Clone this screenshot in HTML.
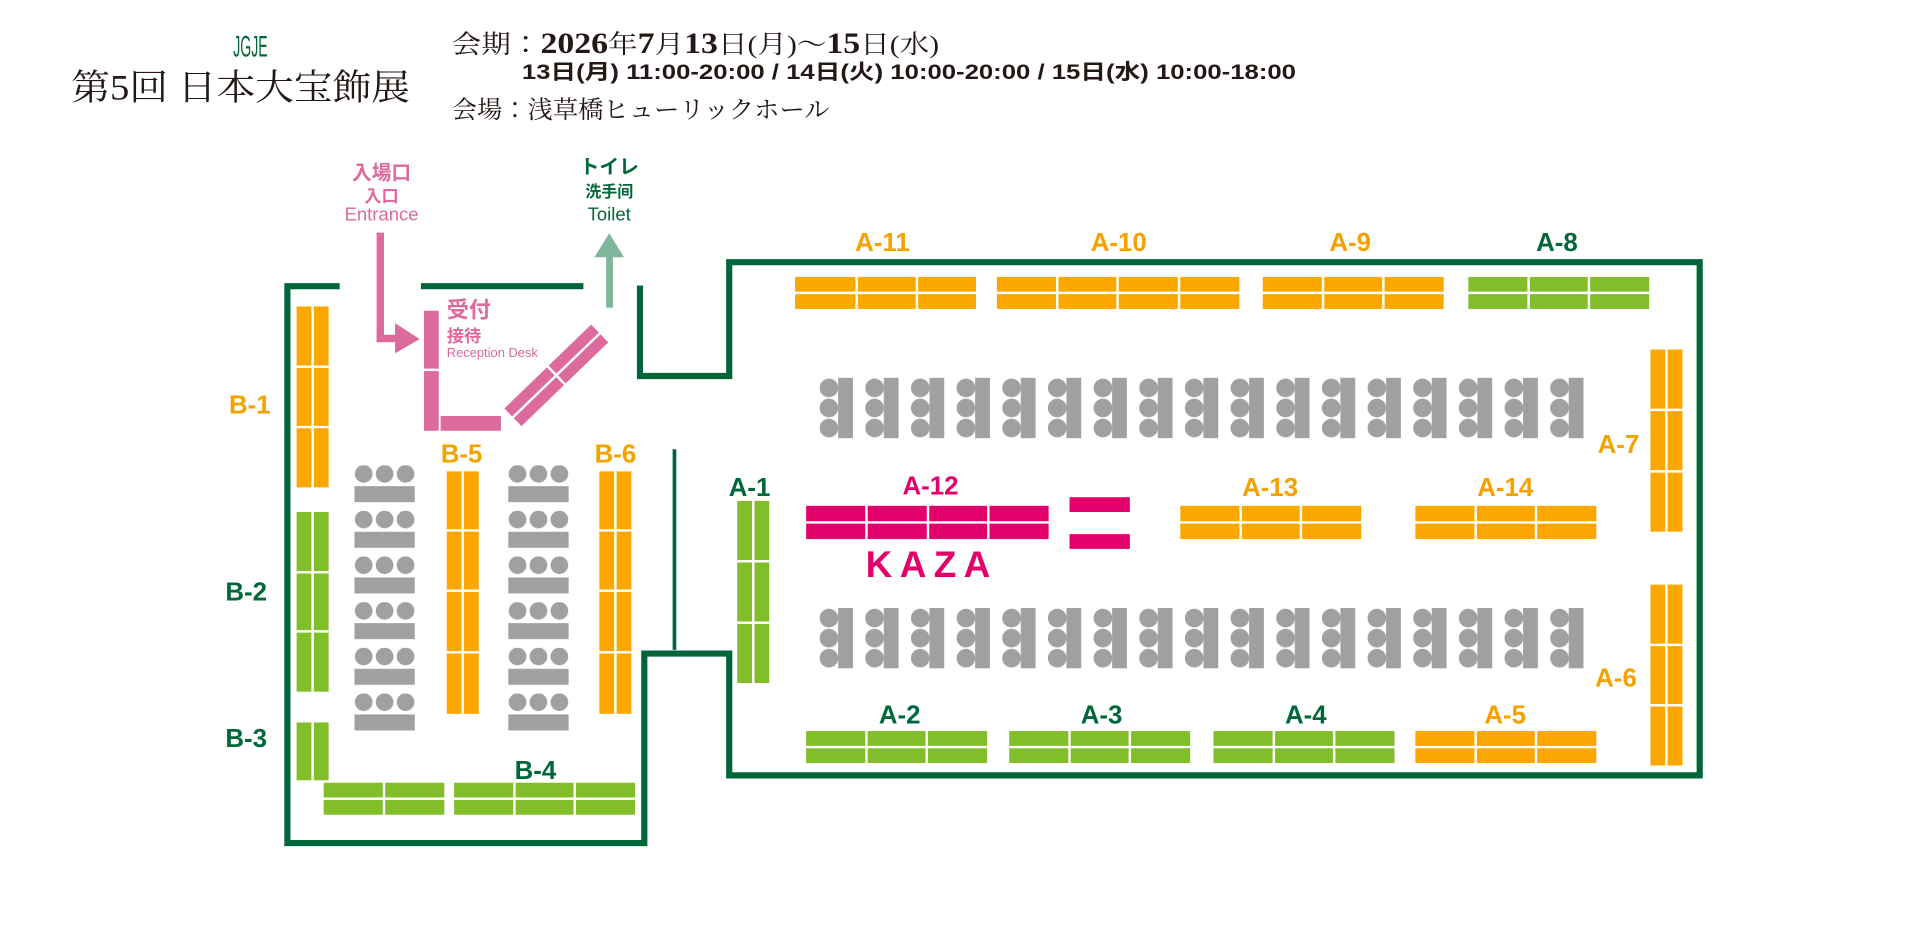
<!DOCTYPE html>
<html><head><meta charset="utf-8"><style>
html,body{margin:0;padding:0;background:#fff;}
svg{display:block;}
.l{font-family:"Liberation Sans","Noto Sans CJK JP",sans-serif;font-weight:bold;text-anchor:middle;}
.s{font-family:"Liberation Serif","Noto Serif CJK JP",serif;fill:#231815;}
</style></head><body>
<svg width="1920" height="927" viewBox="0 0 1560 753.2" preserveAspectRatio="none" xmlns="http://www.w3.org/2000/svg">
<defs>
<pattern id="ch" x="666" y="307" width="37.1" height="49" patternUnits="userSpaceOnUse">
<circle cx="7.5" cy="8.2" r="7.6" fill="#a0a0a0"/><circle cx="7.5" cy="24.5" r="7.6" fill="#a0a0a0"/><circle cx="7.5" cy="40.8" r="7.6" fill="#a0a0a0"/>
<rect x="15" y="0" width="12" height="49" fill="#a0a0a0"/></pattern>
<pattern id="ch2" x="666" y="494" width="37.1" height="49" patternUnits="userSpaceOnUse">
<circle cx="7.5" cy="8.2" r="7.6" fill="#a0a0a0"/><circle cx="7.5" cy="24.5" r="7.6" fill="#a0a0a0"/><circle cx="7.5" cy="40.8" r="7.6" fill="#a0a0a0"/>
<rect x="15" y="0" width="12" height="49" fill="#a0a0a0"/></pattern>
<pattern id="cl" x="288" y="378" width="49" height="37.1" patternUnits="userSpaceOnUse">
<circle cx="7.5" cy="7" r="7.2" fill="#a0a0a0"/><circle cx="24.5" cy="7" r="7.2" fill="#a0a0a0"/><circle cx="41.5" cy="7" r="7.2" fill="#a0a0a0"/>
<rect x="0" y="17" width="49" height="13" fill="#a0a0a0"/></pattern>
<pattern id="cl2" x="413" y="378" width="49" height="37.1" patternUnits="userSpaceOnUse">
<circle cx="7.5" cy="7" r="7.2" fill="#a0a0a0"/><circle cx="24.5" cy="7" r="7.2" fill="#a0a0a0"/><circle cx="41.5" cy="7" r="7.2" fill="#a0a0a0"/>
<rect x="0" y="17" width="49" height="13" fill="#a0a0a0"/></pattern>
</defs>

<!-- header -->
<text x="203.5" y="46" font-family="Liberation Sans Narrow,Liberation Sans,sans-serif" font-size="24" fill="#00673a" text-anchor="middle" textLength="28" lengthAdjust="spacingAndGlyphs">JGJE</text>
<text class="s" x="58" y="81" font-size="29" textLength="275" lengthAdjust="spacingAndGlyphs">第5回 日本大宝飾展</text>
<text class="s" x="367" y="43" font-size="21" textLength="396" lengthAdjust="spacingAndGlyphs">会期：<tspan font-size="24" font-weight="bold">2026</tspan>年<tspan font-size="24" font-weight="bold">7</tspan>月<tspan font-size="24" font-weight="bold">13</tspan>日(月)～<tspan font-size="24" font-weight="bold">15</tspan>日(水)</text>
<text x="424" y="64" font-family="Liberation Sans","Noto Sans CJK JP",sans-serif font-size="17" font-weight="bold" fill="#231815" textLength="629" lengthAdjust="spacingAndGlyphs" style="font-family:'Liberation Sans','Noto Sans CJK JP',sans-serif">13日(月) 11:00-20:00  /  14日(火) 10:00-20:00  /  15日(水) 10:00-18:00</text>
<text class="s" x="367" y="96" font-size="20" textLength="307" lengthAdjust="spacingAndGlyphs">会場：浅草橋ヒューリックホール</text>

<!-- walls -->
<g fill="none" stroke="#00663a" stroke-width="5">
<path d="M276,232.5 H233.5 V685 H523.5 V531 H592.5 V630 H1381 V213 H592.5 V305.5 H520 V232"/>
<path d="M342,232.5 H474"/>
</g>
<line x1="548" y1="365" x2="548" y2="528" stroke="#00663a" stroke-width="3"/>

<!-- entrance arrow -->
<g fill="#dc6a9c">
<rect x="306" y="189" width="6" height="89"/>
<rect x="306" y="272" width="17" height="6"/>
<polygon points="321,262.5 341,275.5 321,287"/>
<rect x="344.5" y="252.5" width="12" height="47"/>
<rect x="344.5" y="301.5" width="12" height="48.5"/>
<rect x="358" y="338" width="49" height="12"/>
<g transform="translate(452,305) rotate(-44)">
<rect x="-49" y="-10" width="48" height="9"/><rect x="1" y="-10" width="48" height="9"/>
<rect x="-49" y="1" width="48" height="9"/><rect x="1" y="1" width="48" height="9"/>
</g>
</g>
<text class="l" x="310" y="146" font-size="16" fill="#dc6a9c">入場口</text>
<text class="l" x="310" y="164" font-size="14" fill="#dc6a9c">入口</text>
<text x="310" y="179" font-size="15" fill="#dc6a9c" text-anchor="middle" font-family="Liberation Sans,sans-serif">Entrance</text>
<text x="363" y="258" font-size="18" fill="#dc6a9c" font-weight="bold" font-family="Liberation Sans,Noto Sans CJK JP,sans-serif">受付</text>
<text x="363" y="278" font-size="14" fill="#dc6a9c" font-weight="bold" font-family="Liberation Sans,Noto Sans CJK JP,sans-serif">接待</text>
<text x="363" y="290" font-size="10.5" fill="#dc6a9c" font-family="Liberation Sans,sans-serif">Reception Desk</text>

<!-- toilet -->
<rect x="492.5" y="207" width="5.5" height="43" fill="#7fb59a"/>
<polygon points="495,189.5 507,209 483,209" fill="#7fb59a"/>
<text class="l" x="495" y="141" font-size="16" fill="#00673a">トイレ</text>
<text class="l" x="495" y="160" font-size="13" fill="#00673a">洗手间</text>
<text x="495" y="179" font-size="15" fill="#00673a" text-anchor="middle" font-family="Liberation Sans,sans-serif">Toilet</text>

<!-- chairs -->
<rect x="666" y="307" width="621" height="49" fill="url(#ch)"/>
<rect x="666" y="494" width="621" height="49" fill="url(#ch2)"/>
<rect x="288" y="378" width="49" height="222" fill="url(#cl)"/>
<rect x="413" y="378" width="49" height="222" fill="url(#cl2)"/>

<!-- tables: blocks -->
<g fill="#fba700">
<rect x="241" y="249" width="26" height="147"/>
<rect x="363" y="383" width="26" height="197"/>
<rect x="487" y="383" width="26" height="197"/>
<rect x="1341" y="284" width="26" height="148"/>
<rect x="1341" y="475" width="26" height="147"/>
<rect x="646" y="225" width="147" height="26"/>
<rect x="810" y="225" width="197" height="26"/>
<rect x="1026" y="225" width="147" height="26"/>
<rect x="959" y="411" width="147" height="27"/>
<rect x="1150" y="411" width="147" height="27"/>
<rect x="1150" y="594" width="147" height="26"/>
</g>
<g fill="#82bd2a">
<rect x="241" y="416" width="26" height="146"/>
<rect x="241" y="587" width="26" height="47"/>
<rect x="263" y="636" width="98" height="26"/>
<rect x="369" y="636" width="147" height="26"/>
<rect x="599" y="407" width="26" height="148"/>
<rect x="1193" y="225" width="147" height="26"/>
<rect x="655" y="594" width="147" height="26"/>
<rect x="820" y="594" width="147" height="26"/>
<rect x="986" y="594" width="147" height="26"/>
</g>
<g fill="#e4006b">
<rect x="655" y="411" width="197" height="27"/>
<rect x="869" y="404" width="49" height="12"/>
<rect x="869" y="434" width="49" height="12"/>
</g>
<!-- white grid lines -->
<g stroke="#fff" stroke-width="2">
<!-- vertical blocks center lines -->
<line x1="254" y1="249" x2="254" y2="396"/><line x1="241" y1="298" x2="267" y2="298"/><line x1="241" y1="347" x2="267" y2="347"/>
<line x1="254" y1="416" x2="254" y2="562"/><line x1="241" y1="465" x2="267" y2="465"/><line x1="241" y1="513" x2="267" y2="513"/>
<line x1="254" y1="587" x2="254" y2="634"/>
<line x1="376" y1="383" x2="376" y2="580"/><line x1="363" y1="431" x2="389" y2="431"/><line x1="363" y1="480" x2="389" y2="480"/><line x1="363" y1="530" x2="389" y2="530"/>
<line x1="500" y1="383" x2="500" y2="580"/><line x1="487" y1="431" x2="513" y2="431"/><line x1="487" y1="480" x2="513" y2="480"/><line x1="487" y1="530" x2="513" y2="530"/>
<line x1="612" y1="407" x2="612" y2="555"/><line x1="599" y1="456" x2="625" y2="456"/><line x1="599" y1="506" x2="625" y2="506"/>
<line x1="1354" y1="284" x2="1354" y2="432"/><line x1="1341" y1="333" x2="1367" y2="333"/><line x1="1341" y1="383" x2="1367" y2="383"/>
<line x1="1354" y1="475" x2="1354" y2="622"/><line x1="1341" y1="524" x2="1367" y2="524"/><line x1="1341" y1="573" x2="1367" y2="573"/>
<!-- horizontal blocks -->
<line x1="640" y1="238" x2="1345" y2="238"/>
<line x1="696" y1="225" x2="696" y2="251"/><line x1="745" y1="225" x2="745" y2="251"/>
<line x1="859" y1="225" x2="859" y2="251"/><line x1="908" y1="225" x2="908" y2="251"/><line x1="958" y1="225" x2="958" y2="251"/>
<line x1="1075" y1="225" x2="1075" y2="251"/><line x1="1124" y1="225" x2="1124" y2="251"/>
<line x1="1242" y1="225" x2="1242" y2="251"/><line x1="1291" y1="225" x2="1291" y2="251"/>
<line x1="650" y1="424.5" x2="1300" y2="424.5"/>
<line x1="704" y1="411" x2="704" y2="438"/><line x1="754" y1="411" x2="754" y2="438"/><line x1="803" y1="411" x2="803" y2="438"/>
<line x1="1008" y1="411" x2="1008" y2="438"/><line x1="1057" y1="411" x2="1057" y2="438"/>
<line x1="1199" y1="411" x2="1199" y2="438"/><line x1="1248" y1="411" x2="1248" y2="438"/>
<line x1="650" y1="607" x2="1300" y2="607"/>
<line x1="704" y1="594" x2="704" y2="620"/><line x1="753" y1="594" x2="753" y2="620"/>
<line x1="869" y1="594" x2="869" y2="620"/><line x1="918" y1="594" x2="918" y2="620"/>
<line x1="1035" y1="594" x2="1035" y2="620"/><line x1="1084" y1="594" x2="1084" y2="620"/>
<line x1="1199" y1="594" x2="1199" y2="620"/><line x1="1248" y1="594" x2="1248" y2="620"/>
<line x1="260" y1="649" x2="520" y2="649"/>
<line x1="312" y1="636" x2="312" y2="662"/>
<line x1="418" y1="636" x2="418" y2="662"/><line x1="467" y1="636" x2="467" y2="662"/>
</g>

<!-- labels -->
<g class="l" font-size="21">
<text x="203" y="336" fill="#f5a200">B-1</text>
<text x="200" y="488" fill="#00673a">B-2</text>
<text x="200" y="607" fill="#00673a">B-3</text>
<text x="435" y="633" fill="#00673a">B-4</text>
<text x="375" y="376" fill="#f5a200">B-5</text>
<text x="500" y="376" fill="#f5a200">B-6</text>
<text x="717" y="204" fill="#f5a200">A-11</text>
<text x="909" y="204" fill="#f5a200">A-10</text>
<text x="1097" y="204" fill="#f5a200">A-9</text>
<text x="1265" y="204" fill="#00673a">A-8</text>
<text x="1315" y="368" fill="#f5a200">A-7</text>
<text x="1313" y="558" fill="#f5a200">A-6</text>
<text x="609" y="403" fill="#00673a">A-1</text>
<text x="756" y="402" fill="#e4006b">A-12</text>
<text x="1032" y="403" fill="#f5a200">A-13</text>
<text x="1223" y="403" fill="#f5a200">A-14</text>
<text x="731" y="588" fill="#00673a">A-2</text>
<text x="895" y="588" fill="#00673a">A-3</text>
<text x="1061" y="588" fill="#00673a">A-4</text>
<text x="1223" y="588" fill="#f5a200">A-5</text>
</g>
<text class="l" x="757" y="469" font-size="30" fill="#e4006b" letter-spacing="6">KAZA</text>
</svg>
</body></html>
